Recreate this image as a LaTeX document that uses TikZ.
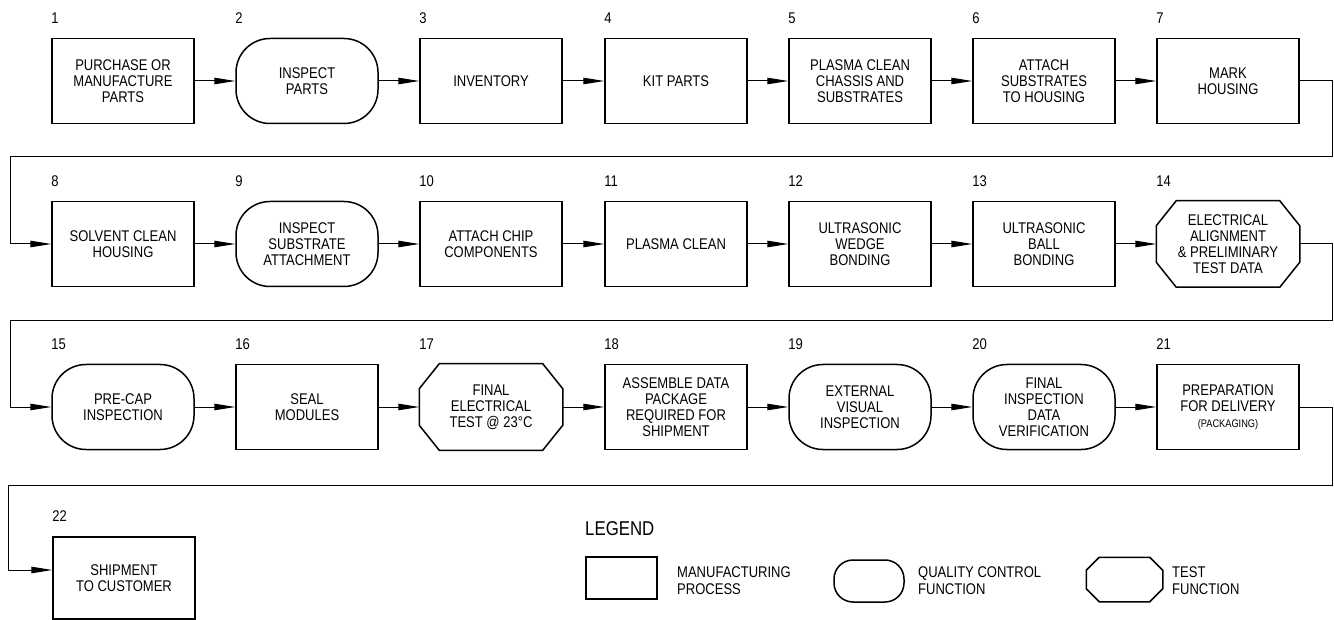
\documentclass[tikz,border=0pt]{standalone}
\usepackage{fontspec}
\setmainfont{Liberation Sans}[FakeStretch=0.84]
\usepackage{tikz}
\usetikzlibrary{arrows.meta}
\usetikzlibrary{calc}

\begin{document}
\begin{tikzpicture}[x=1pt,y=-1pt,
  txt/.style={font=\fontsize{15.5}{16}\selectfont, align=center, inner sep=0pt},
  procbox/.style={txt, draw, line width=1.5pt, rectangle, minimum width=142pt, minimum height=85pt},
  qcbox/.style={procbox, rounded corners=34pt},
  testbox/.style={procbox, draw=none},
  num/.style={font=\fontsize{15.5}{16}\selectfont, anchor=base west, inner sep=0pt},
  flow/.style={line width=1pt, -{Triangle[length=21pt,width=6.5pt]}}]
\useasboundingbox (0,0) rectangle (1334,620);

\node[procbox] (n1) at (123,81) {PURCHASE OR\\MANUFACTURE\\PARTS};
\node[qcbox] (n2) at (307,81) {INSPECT\\PARTS};
\node[procbox] (n3) at (491,81) {INVENTORY};
\node[procbox] (n4) at (676,81) {KIT PARTS};
\node[procbox] (n5) at (860,81) {PLASMA CLEAN\\CHASSIS AND\\SUBSTRATES};
\node[procbox] (n6) at (1044,81) {ATTACH\\SUBSTRATES\\TO HOUSING};
\node[procbox] (n7) at (1228,81) {MARK\\HOUSING};

\node[procbox] (n8) at (123,244) {SOLVENT CLEAN\\HOUSING};
\node[qcbox] (n9) at (307,244) {INSPECT\\SUBSTRATE\\ATTACHMENT};
\node[procbox] (n10) at (491,244) {ATTACH CHIP\\COMPONENTS};
\node[procbox] (n11) at (676,244) {PLASMA CLEAN};
\node[procbox] (n12) at (860,244) {ULTRASONIC\\WEDGE\\BONDING};
\node[procbox] (n13) at (1044,244) {ULTRASONIC\\BALL\\BONDING};
\node[testbox] (n14) at (1228,244) {ELECTRICAL\\ALIGNMENT\\\& PRELIMINARY\\TEST DATA};

\node[qcbox] (n15) at (123,407) {PRE-CAP\\INSPECTION};
\node[procbox] (n16) at (307,407) {SEAL\\MODULES};
\node[testbox] (n17) at (491,407) {FINAL\\ELECTRICAL\\TEST @ 23°C};
\node[procbox] (n18) at (676,407) {ASSEMBLE DATA\\PACKAGE\\REQUIRED FOR\\SHIPMENT};
\node[qcbox] (n19) at (860,407) {EXTERNAL\\VISUAL\\INSPECTION};
\node[qcbox] (n20) at (1044,407) {FINAL\\INSPECTION\\DATA\\VERIFICATION};
\node[procbox] (n21) at (1228,407) {PREPARATION\\FOR DELIVERY\\{\fontsize{11}{12}\selectfont (PACKAGING)}};

\node[procbox, minimum height=82pt] (n22) at (124,578) {SHIPMENT\\TO CUSTOMER};

\foreach \i in {1,...,22}
  \node[num] (k\i) at ([yshift=14.5pt]n\i.north west) {\i};

% legend
\node[txt, font=\fontsize{20}{22}\selectfont, anchor=west] (leg) at (585,529) {LEGEND};
\node[procbox, minimum width=71pt, minimum height=42pt] (lp) at (621.5,578) {};
\node[qcbox, minimum width=70pt, minimum height=42pt, rounded corners=19pt] (lq) at (869,581) {};
\node[testbox, minimum width=75pt, minimum height=43pt] (lt) at (1124.5,579.5) {};
\node[txt, anchor=west, align=left, font=\fontsize{15.5}{17}\selectfont] (tp) at (677,580.5) {MANUFACTURING\\PROCESS};
\node[txt, anchor=west, align=left, font=\fontsize{15.5}{17}\selectfont] (tq) at (918,580.5) {QUALITY CONTROL\\FUNCTION};
\node[txt, anchor=west, align=left, font=\fontsize{15.5}{17}\selectfont] (tt) at (1172,580.5) {TEST\\FUNCTION};

\foreach \n/\cx/\cy in {n14/20pt/25pt, n17/20pt/25pt, lt/13pt/13pt}
  \draw[line width=1.5pt] ([xshift=\cx]\n.north west) -- ([xshift=-\cx]\n.north east)
    -- ([yshift=-\cy]\n.north east) -- ([yshift=\cy]\n.south east)
    -- ([xshift=-\cx]\n.south east) -- ([xshift=\cx]\n.south west)
    -- ([yshift=\cy]\n.south west) -- ([yshift=-\cy]\n.north west) -- cycle;

\foreach \a/\b in {1/2,2/3,3/4,4/5,5/6,6/7,8/9,9/10,10/11,11/12,12/13,13/14,15/16,16/17,17/18,18/19,19/20,20/21}
  \draw[flow] (n\a) -- (n\b);

\coordinate (r1) at (10,157);
\coordinate (r2) at (10,321);
\coordinate (r3) at (8,485);
\draw[flow] (n7.east) -- ++(33,0) |- (r1) |- (n8.west);
\draw[flow] (n14.east) -- ++(33,0) |- (r2) |- (n15.west);
\draw[flow] (n21.east) -- ++(33,0) |- (r3) |- ([yshift=8pt]n22.west);

\end{tikzpicture}
\end{document}
